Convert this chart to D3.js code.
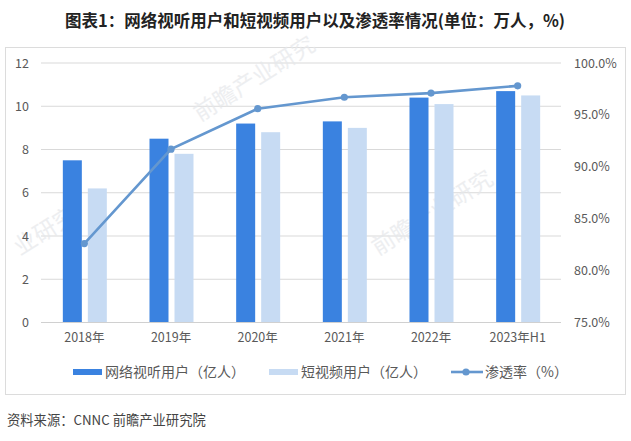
<!DOCTYPE html>
<html>
<head>
<meta charset="utf-8">
<script src="https://cdn.jsdelivr.net/npm/d3@7"></script>
<style>
  html, body { margin: 0; padding: 0; background: #fff; }
  svg { display: block; }
  text { font-family: "Noto Sans CJK SC", "Open Sans", sans-serif; }
</style>
</head>
<body>
<svg id="chart"></svg>
<script>
"use strict";

const years = ["2018年", "2019年", "2020年", "2021年", "2022年", "2023年H1"];
const videoUsers = [7.5, 8.5, 9.2, 9.3, 10.4, 10.7];
const shortVideoUsers = [6.2, 7.8, 8.8, 9.0, 10.1, 10.5];
const penetration = [82.6, 91.7, 95.6, 96.7, 97.1, 97.8];
const leftTicks = [0, 2, 4, 6, 8, 10, 12];
const rightTicks = [75, 80, 85, 90, 95, 100];

const width = 631, height = 441;
const margin = { top: 63, right: 70, bottom: 118.5, left: 41 };
const textGray = "#595959";
const darkBlue = "#3a82e0";
const lightBlue = "#c7dbf3";
const lineBlue = "#6497cf";

const svg = d3.select("#chart").attr("width", width).attr("height", height);

const x = d3.scaleBand().domain(years).range([margin.left, width - margin.right]);
const yLeft = d3.scaleLinear().domain([0, 12]).range([height - margin.bottom, margin.top]);
const yRight = d3.scaleLinear().domain([75, 100]).range([height - margin.bottom, margin.top]);

// title and outer frame
svg.append("text")
    .attr("x", 315)
    .attr("y", 27)
    .attr("text-anchor", "middle")
    .attr("font-size", 16.5)
    .attr("font-weight", 700)
    .attr("fill", "#222")
    .text("图表1：网络视听用户和短视频用户以及渗透率情况(单位：万人，%)");

svg.append("rect")
    .attr("x", 5.5)
    .attr("y", 47.5)
    .attr("width", 620)
    .attr("height", 347)
    .attr("fill", "none")
    .attr("stroke", "#dcdcdc");

// gridlines
svg.append("g")
    .selectAll("line")
    .data(leftTicks)
    .enter()
    .append("line")
    .attr("x1", margin.left)
    .attr("x2", width - margin.right)
    .attr("y1", d => yLeft(d))
    .attr("y2", d => yLeft(d))
    .attr("stroke", "#d9d9d9");

// faint watermarks behind the marks
const watermarks = [[200, 122, "前瞻产业研究"], [378, 256, "前瞻产业研究"], [20, 256, "业研究"]];
svg.append("g")
    .selectAll("text")
    .data(watermarks)
    .enter()
    .append("text")
    .attr("transform", d => `translate(${d[0]},${d[1]}) rotate(-32)`)
    .attr("font-size", 23)
    .attr("fill", "#e6e8eb")
    .attr("opacity", 0.7)
    .text(d => d[2]);

// bars
const barWidth = 19;
svg.append("g")
    .selectAll("rect")
    .data(videoUsers)
    .enter()
    .append("rect")
    .attr("x", (d, i) => x(years[i]) + x.bandwidth() / 2 - 21.5)
    .attr("y", d => yLeft(d))
    .attr("width", barWidth)
    .attr("height", d => yLeft(0) - yLeft(d))
    .attr("fill", darkBlue);

svg.append("g")
    .selectAll("rect")
    .data(shortVideoUsers)
    .enter()
    .append("rect")
    .attr("x", (d, i) => x(years[i]) + x.bandwidth() / 2 + 3.5)
    .attr("y", d => yLeft(d))
    .attr("width", barWidth)
    .attr("height", d => yLeft(0) - yLeft(d))
    .attr("fill", lightBlue);

// penetration line
const line = d3.line()
    .x((d, i) => x(years[i]) + x.bandwidth() / 2)
    .y(d => yRight(d));

svg.append("path")
    .datum(penetration)
    .attr("d", line)
    .attr("fill", "none")
    .attr("stroke", lineBlue)
    .attr("stroke-width", 2.6);

svg.append("g")
    .selectAll("circle")
    .data(penetration)
    .enter()
    .append("circle")
    .attr("cx", (d, i) => x(years[i]) + x.bandwidth() / 2)
    .attr("cy", d => yRight(d))
    .attr("r", 3.6)
    .attr("fill", lineBlue);

// axes, drawn with d3 and stripped down to their labels
const styleAxis = g => {
    g.select(".domain").remove();
    g.selectAll(".tick line").remove();
    g.selectAll(".tick text")
        .attr("fill", textGray)
        .style("font-family", '"Noto Sans CJK SC", sans-serif')
        .style("font-size", "12.5px");
};

svg.append("g")
    .attr("transform", `translate(${margin.left},0)`)
    .call(d3.axisLeft(yLeft).tickValues(leftTicks).tickSize(0).tickPadding(12))
    .call(styleAxis);

svg.append("g")
    .attr("transform", `translate(${width - margin.right},0)`)
    .call(d3.axisRight(yRight).tickValues(rightTicks).tickSize(0).tickPadding(13)
        .tickFormat(d => d.toFixed(1) + "%"))
    .call(styleAxis);

svg.append("g")
    .attr("transform", `translate(0,${height - margin.bottom})`)
    .call(d3.axisBottom(x).tickSize(0).tickPadding(11))
    .call(styleAxis);

// bottom axis line sits over the bars' feet
svg.append("line")
    .attr("x1", margin.left)
    .attr("x2", width - margin.right)
    .attr("y1", yLeft(0))
    .attr("y2", yLeft(0))
    .attr("stroke", "#d0d0d0");

// legend
const legendY = 372;
const legendFont = 14;

const addLegendText = (tx, label) => svg.append("text")
    .attr("x", tx)
    .attr("y", legendY)
    .attr("dy", "0.36em")
    .attr("font-size", legendFont)
    .attr("fill", textGray)
    .text(label);

svg.append("rect").attr("x", 73).attr("y", legendY - 3).attr("width", 29).attr("height", 6).attr("fill", darkBlue);
addLegendText(105, "网络视听用户（亿人）");

svg.append("rect").attr("x", 269).attr("y", legendY - 3).attr("width", 29).attr("height", 6).attr("fill", lightBlue);
addLegendText(301, "短视频用户（亿人）");

svg.append("line")
    .attr("x1", 451).attr("x2", 483)
    .attr("y1", legendY).attr("y2", legendY)
    .attr("stroke", lineBlue).attr("stroke-width", 2.6);
svg.append("circle").attr("cx", 466).attr("cy", legendY).attr("r", 3.6).attr("fill", lineBlue);
addLegendText(485, "渗透率（%）");

// source note
svg.append("text")
    .attr("x", 7)
    .attr("y", 425)
    .attr("font-size", 13.3)
    .attr("fill", "#444")
    .text("资料来源：CNNC 前瞻产业研究院");
</script>
</body>
</html>
